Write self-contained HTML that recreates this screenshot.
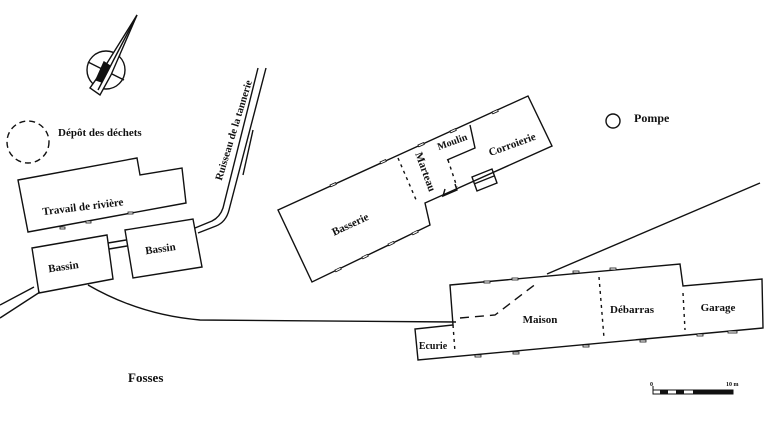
<!DOCTYPE html>
<html><head><style>body{margin:0;background:#fff}svg{display:block}text{font-family:"Liberation Serif",serif;font-weight:bold;fill:#111}</style></head><body>
<svg width="768" height="434" viewBox="0 0 768 434" xmlns="http://www.w3.org/2000/svg">
<rect width="768" height="434" fill="#fff"/>
<g fill="none" stroke="#111" stroke-width="1.4">
<circle cx="106" cy="70" r="19"/>
<line x1="88" y1="62" x2="124" y2="80"/><line x1="92" y1="85" x2="120" y2="55"/>
<path d="M137,15 L111,75 L100,95 L90,88 L104,68 Z" fill="#fff"/>
<path d="M104,62 L110,66 L102,82 L96,80 Z" fill="#111"/>
<line x1="137" y1="15" x2="98" y2="90"/>
<circle cx="28" cy="142" r="21" stroke-dasharray="6,4"/>
<polygon points="18,180 137,158 140,175 182,168 186,203 28,232"/>
<polygon points="32,248 107,235 113,279 39,293"/>
<polygon points="125,230 193,219 202,267 133,278"/>
<line x1="108" y1="243" x2="126" y2="240"/><line x1="109" y1="249" x2="127" y2="246"/>
<path d="M195,228 L212,221 Q220,217 223,208 L258,68"/>
<path d="M198,233 L216,226 Q226,222 229,210 L266,68"/>
<line x1="253" y1="130" x2="243" y2="175"/>
<path d="M0,305 L34,287 M0,318 L40,292"/>
<path d="M88,285 Q140,315 200,320 L456,322"/>
<polygon points="278,210 528,96 552,146 425,203 430,225 312,282"/>
<path d="M470,125 L475,148 L447,160"/>
<path d="M448,160 L457,187 M398,158 L417,202" stroke-dasharray="3,4"/>
<path d="M445,189 L443,196 L457,190 L455,184"/>
<polygon points="472,177 492,169 497,183 477,191"/><line x1="474" y1="184" x2="494" y2="176"/>
<polygon points="450,285 680,264 683,286 762,279 763,328 418,360 415,329 453,325"/>
<path d="M453,325 L455,352 M599,277 L604,338 M683,293 L685,330" stroke-dasharray="3,4"/>
<path d="M460,318 L495,315 L537,283" stroke-dasharray="9,6"/>
<line x1="547" y1="274" x2="760" y2="183"/>
<circle cx="613" cy="121" r="7"/>
<rect x="653" y="390" width="80" height="4" stroke-width="1"/>
<line x1="653" y1="386" x2="653" y2="394" stroke-width="1"/>
</g>
<g fill="#111"><rect x="660" y="390" width="8" height="4"/><rect x="676" y="390" width="8" height="4"/><rect x="693" y="390" width="40" height="4"/></g>
<g stroke="#111" fill="#fff" stroke-width="0.8">
<rect x="60" y="227" width="5" height="2"/><rect x="86" y="221" width="5" height="2"/><rect x="128" y="212" width="5" height="2"/>
<rect x="330" y="185" width="6" height="2" transform="rotate(-24 330 185)"/><rect x="380" y="162" width="6" height="2" transform="rotate(-24 380 162)"/><rect x="418" y="145" width="6" height="2" transform="rotate(-24 418 145)"/><rect x="450" y="131" width="6" height="2" transform="rotate(-24 450 131)"/><rect x="492" y="112" width="6" height="2" transform="rotate(-24 492 112)"/>
<rect x="335" y="270" width="6" height="2" transform="rotate(-26 335 270)"/><rect x="362" y="257" width="6" height="2" transform="rotate(-26 362 257)"/><rect x="388" y="244" width="6" height="2" transform="rotate(-26 388 244)"/><rect x="412" y="233" width="6" height="2" transform="rotate(-26 412 233)"/>
<rect x="484" y="281" width="6" height="2"/><rect x="512" y="278" width="6" height="2"/><rect x="573" y="271" width="6" height="2"/><rect x="610" y="268" width="6" height="2"/>
<rect x="475" y="355" width="6" height="2"/><rect x="513" y="352" width="6" height="2"/><rect x="583" y="345" width="6" height="2"/><rect x="640" y="340" width="6" height="2"/><rect x="697" y="334" width="6" height="2"/><rect x="728" y="331" width="9" height="2"/>
</g>
<g font-size="11">
<text x="58" y="136">Dépôt des déchets</text>
<text x="42" y="210" transform="rotate(-7 85 205)">Travail de rivière</text>
<text x="48" y="270" transform="rotate(-8 65 266)">Bassin</text>
<text x="145" y="252" transform="rotate(-8 162 248)">Bassin</text>
<text x="233" y="134" text-anchor="middle" transform="rotate(-73 233 130)" font-size="10.5">Ruisseau de la tannerie</text>
<text x="350" y="228" text-anchor="middle" transform="rotate(-25 350 224)">Basserie</text>
<text x="425" y="175" text-anchor="middle" transform="rotate(70 425 172)">Marteau</text>
<text x="452" y="145" text-anchor="middle" transform="rotate(-20 452 141)" font-size="10">Moulin</text>
<text x="512" y="148" text-anchor="middle" transform="rotate(-20 512 144)">Corroierie</text>
<text x="634" y="122" font-size="12">Pompe</text>
<text x="540" y="323" text-anchor="middle">Maison</text>
<text x="632" y="313" text-anchor="middle">Débarras</text>
<text x="718" y="311" text-anchor="middle">Garage</text>
<text x="433" y="349" text-anchor="middle" font-size="10">Ecurie</text>
<text x="128" y="382" font-size="13">Fosses</text>
<text x="650" y="386" font-size="6">0</text>
<text x="726" y="386" font-size="6">10 m</text>
</g>
</svg>
</body></html>
